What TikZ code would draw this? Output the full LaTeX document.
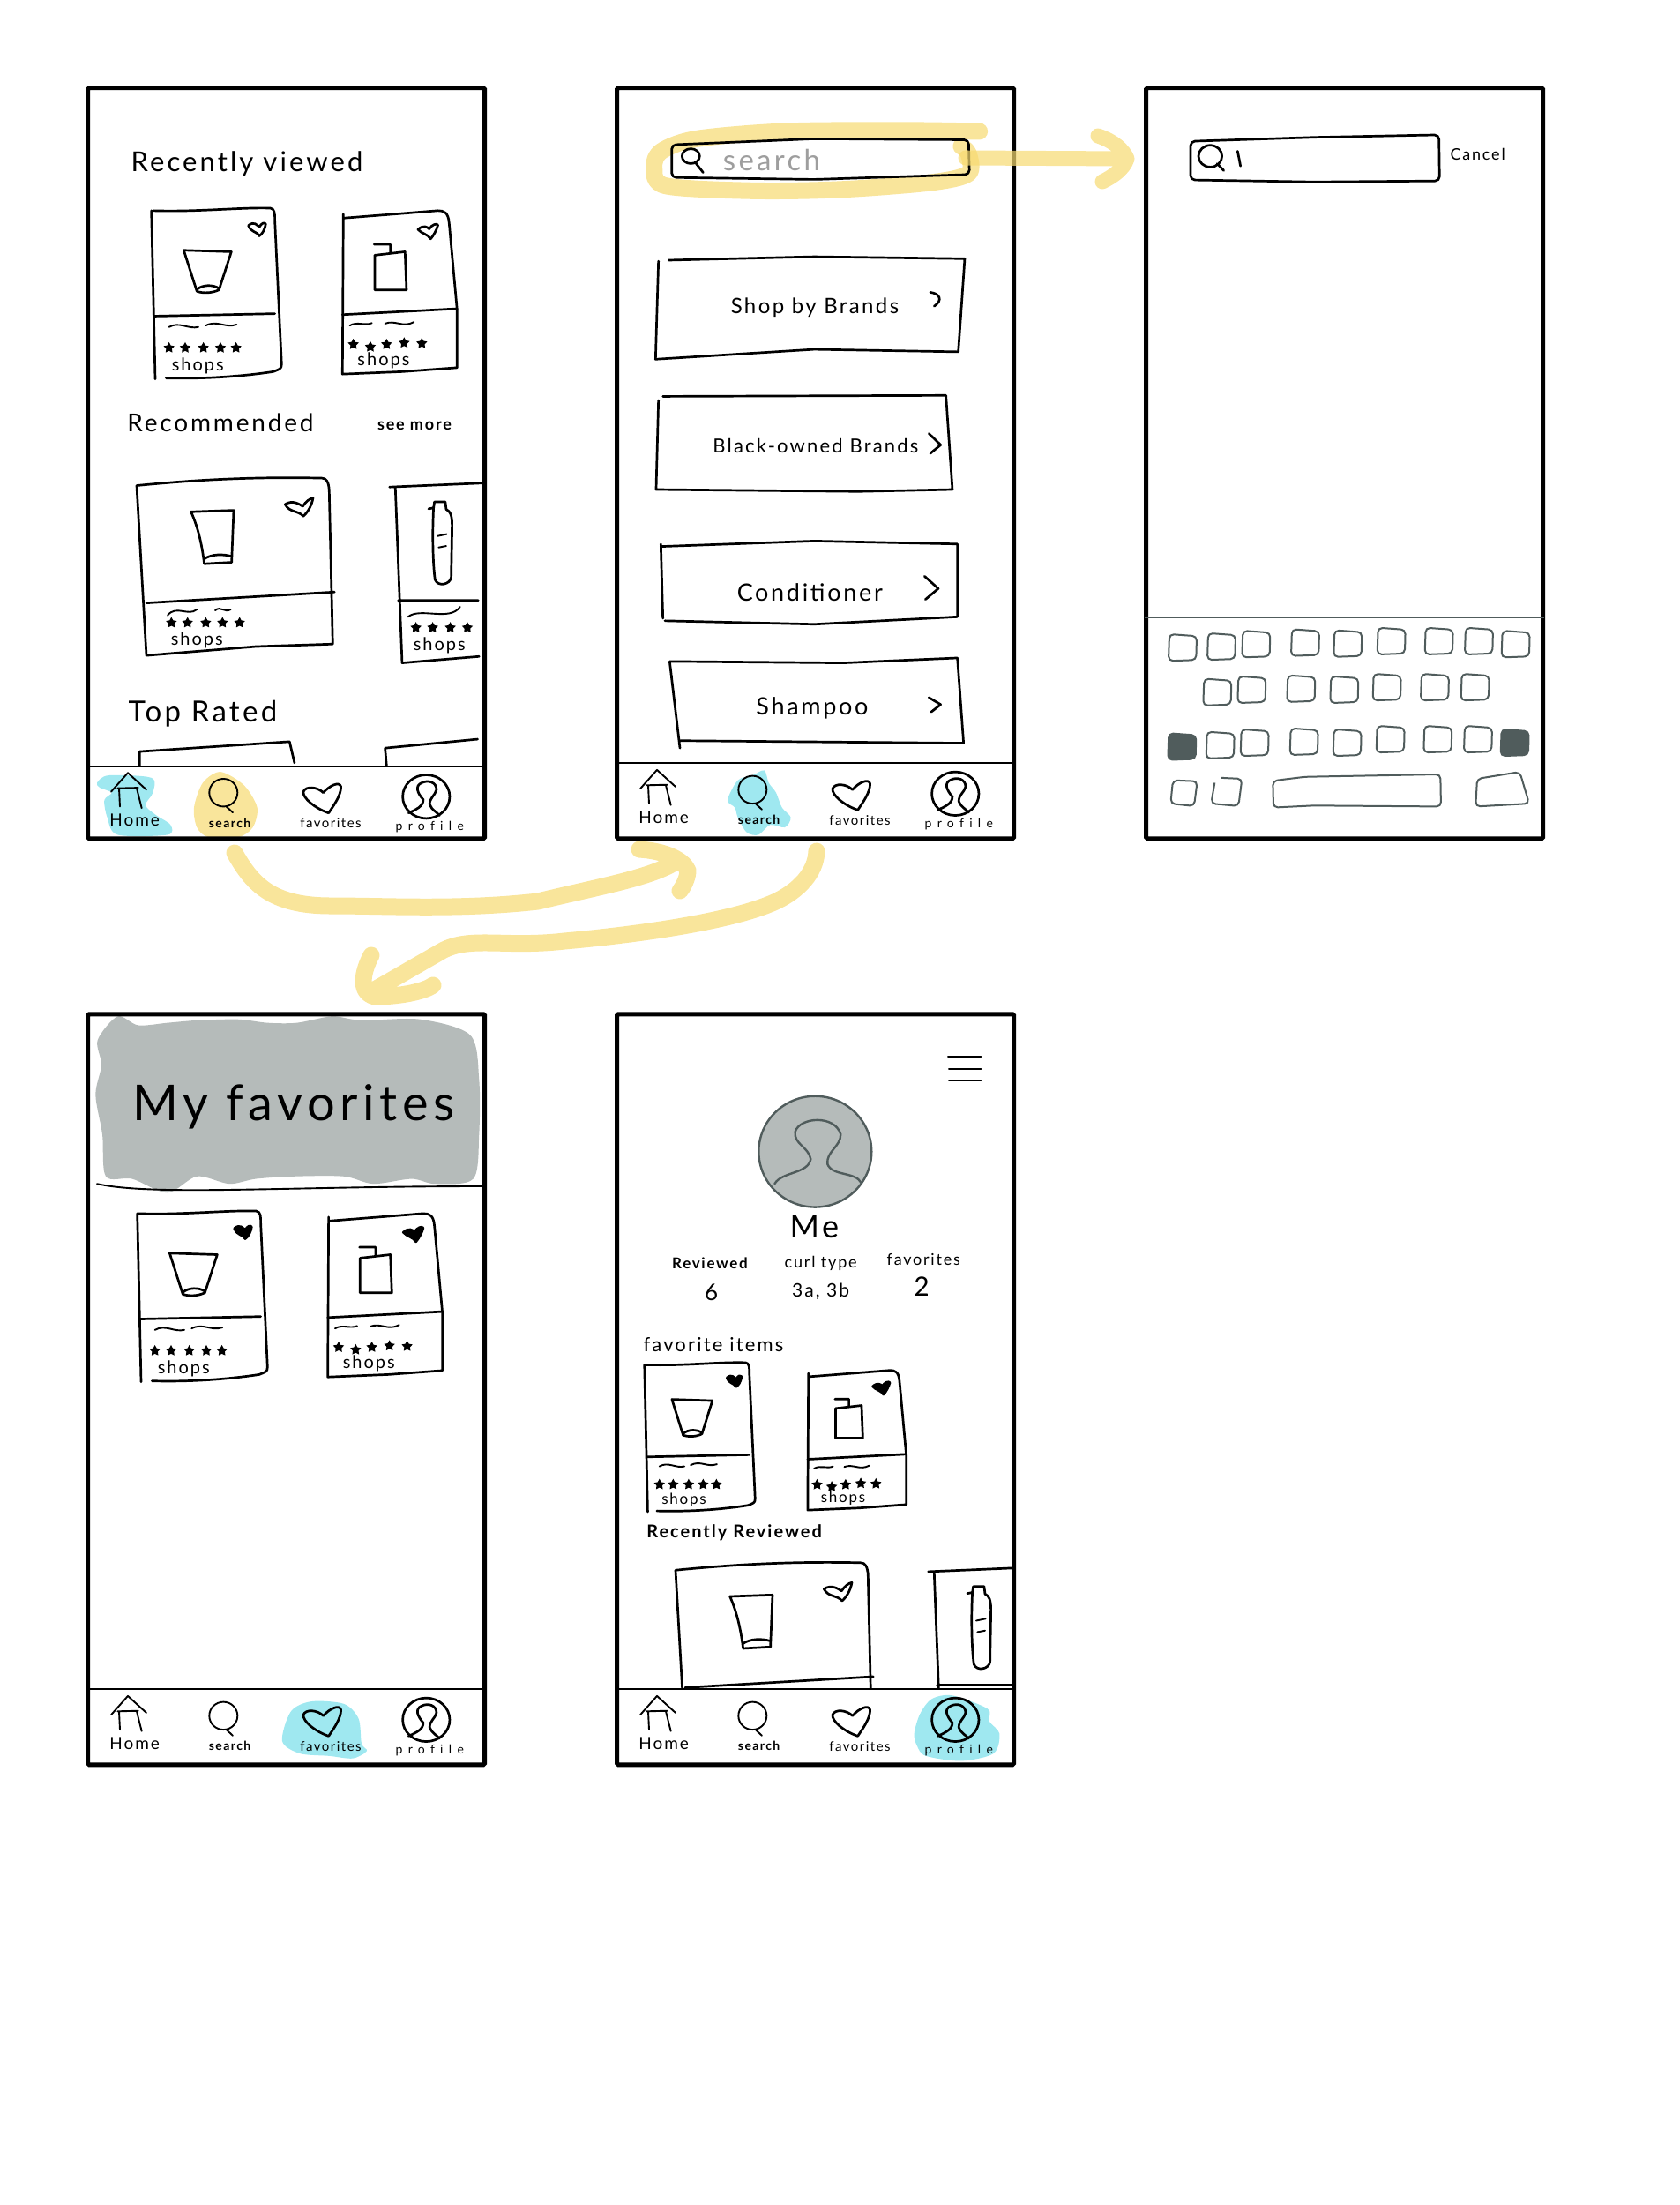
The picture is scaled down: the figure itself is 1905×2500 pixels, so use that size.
\documentclass[tikz,border=0pt]{standalone}
\usepackage{fontspec}
\usetikzlibrary{shapes.geometric}
\newfontfamily\handfont[LetterSpace=10]{Lato}
\newfontfamily\widefont[LetterSpace=45,Ligatures=NoCommon]{Lato}
\definecolor{markeryellow}{HTML}{F7DA70}
\definecolor{markercyan}{HTML}{9FE8F0}
\definecolor{pencilgray}{HTML}{B5BBBA}
\definecolor{keygray}{HTML}{505C5C}
\tikzset{
  screen/.style={shift={#1},x=.3333pt,y=-.5616pt},
  ink/.style={line width=2.7pt,line cap=round,line join=round},
  thinink/.style={line width=1.9pt,line cap=round,line join=round},
  phone/.style={draw,line width=5pt,rounded corners=1.5pt,minimum width=450pt,minimum height=851pt,inner sep=0pt},
  hand/.style={font=\handfont\fontsize{#1}{#1}\selectfont,inner sep=0pt,text=black},
  handbold/.style={font=\handfont\bfseries\fontsize{#1}{#1}\selectfont,inner sep=0pt,text=black},
  handwide/.style={font=\widefont\fontsize{#1}{#1}\selectfont,inner sep=0pt,text=black},
  stardot/.style={star,star points=5,star point ratio=1.9,fill=black,inner sep=0pt,minimum size=13pt},
  markerpen/.style={draw=markeryellow,draw opacity=.7,line width=19pt,line cap=round,line join=round},
  keycap/.style={draw=keygray,line width=2pt,rounded corners=5pt},
  pics/tabbar/.style={code={
    \draw[thinink] (108,1432) -- (165,1394) -- (228,1428) (135,1425) -- (138,1462) (195,1425) -- (212,1465) (130,1425) -- (200,1424);
    \node[hand=19] (-home) at (188,1490) {Home};
    \draw[thinink] (490,1434) ellipse [x radius=48,y radius=28] (500,1462) -- (522,1474);
    \node[handbold=14] (-search) at (512,1495) {search};
    \draw[ink] (848,1475) .. controls (800,1465) and (760,1445) .. (762,1432) .. controls (770,1420) and (810,1422) .. (830,1434) .. controls (850,1420) and (885,1410) .. (890,1422) .. controls (890,1440) and (865,1460) .. (848,1475);
    \node[hand=15] (-favorites) at (855,1495) {favorites};
    \draw[ink] (1180,1442) ellipse [x radius=80,y radius=44];
    \draw[ink] (1120,1475) .. controls (1145,1468) and (1170,1462) .. (1170,1448) .. controls (1150,1435) and (1140,1420) .. (1165,1414) .. controls (1185,1408) and (1215,1412) .. (1215,1428) .. controls (1210,1440) and (1190,1445) .. (1192,1458) .. controls (1200,1470) and (1215,1472) .. (1225,1480);
    \node[handwide=14] (-profile) at (1192,1503) {profile};
  }},
  pics/cupcard/.style 2 args={code={
    \draw[ink] (245,265) -- (258,605) (250,265) .. controls (400,268) and (550,258) .. (650,260) .. controls (665,262) and (665,270) .. (665,285) -- (688,575) .. controls (688,585) and (680,585) .. (660,590) .. controls (550,600) and (420,605) .. (295,603);
    \draw[ink] (255,478) -- (665,473);
    \draw[ink,fill=#1] (575,295) .. controls (595,285) and (605,295) .. (612,298) .. controls (620,290) and (630,288) .. (634,292) .. controls (630,305) and (622,312) .. (612,316) .. controls (600,305) and (585,310) .. cycle;
    \draw[ink] (355,345) -- (517,348) -- (475,425) .. controls (450,432) and (420,432) .. (400,428) -- cycle (400,424) .. controls (420,414) and (455,414) .. (475,422);
    \draw[thinink] (305,500) .. controls (340,488) and (370,505) .. (405,500) (430,497) .. controls (470,485) and (495,503) .. (535,495);
    \foreach \i/\sx in {1/305,2/360,3/422,4/480,5/533} \node[stardot] (-s\i) at (\sx,542) {};
    \node[hand=#2] (-shops) at (403,578) {shops};
  }},
  pics/pumpcard/.style 2 args={code={
    \draw[ink] (898,272) -- (895,595) -- (1100,590) -- (1285,582) -- (1285,465) -- (1258,290) .. controls (1255,268) and (1240,265) .. (1220,265) -- (900,280);
    \draw[ink] (895,475) -- (1285,463);
    \draw[ink,fill=#1] (1152,303) .. controls (1170,293) and (1185,298) .. (1190,302) .. controls (1200,293) and (1215,290) .. (1220,294) .. controls (1215,305) and (1205,315) .. (1195,322) .. controls (1185,312) and (1165,312) .. cycle;
    \draw[ink] (1003,333) -- (1058,333) -- (1058,350) (1005,355) -- (1108,348) -- (1113,425) -- (1005,425) -- cycle;
    \draw[thinink] (920,497) .. controls (945,488) and (970,498) .. (995,492) (1040,493) .. controls (1075,485) and (1100,502) .. (1138,490);
    \foreach \i/\sx/\sy in {1/932/535,2/990/540,3/1045/535,4/1105/532,5/1165/533} \node[stardot] (-s\i) at (\sx,\sy) {};
    \node[hand=#2] (-shops) at (1035,567) {shops};
  }},
  pics/bigcupcard/.style={code={
    \draw[ink] (195,820) -- (228,1163) -- (600,1145) -- (862,1140) -- (850,830) .. controls (848,812) and (840,805) .. (825,805) .. controls (600,802) and (400,808) .. (195,820);
    \draw[ink] (228,1057) -- (868,1035);
    \draw[ink] (700,858) .. controls (725,848) and (750,858) .. (760,862) .. controls (770,852) and (785,846) .. (795,845) .. controls (790,862) and (775,875) .. (762,882) .. controls (745,870) and (715,875) .. cycle;
    \draw[ink] (380,873) -- (525,870) -- (518,975) -- (425,978) .. controls (415,930) and (400,900) .. cycle (425,968) .. controls (450,958) and (490,958) .. (518,963);
  }},
  pics/bottlecard/.style={code={
    \draw[ink] (1075,825) -- (1098,1178) -- (1360,1165) (1055,823) -- (1372,815) (1085,1052) -- (1357,1052);
    \draw[ink] (1188,867) -- (1205,865) -- (1208,853) -- (1245,853) -- (1248,868) .. controls (1262,872) and (1268,880) .. (1268,900) -- (1265,1005) .. controls (1262,1020) and (1220,1025) .. (1210,1010) .. controls (1203,980) and (1200,920) .. (1205,865);
    \draw[thinink] (1218,922) -- (1250,918) (1222,945) -- (1248,942);
  }},
  pics/bottlefoot/.style={code={
    \draw[thinink] (1118,1085) .. controls (1160,1065) and (1260,1095) .. (1295,1065);
    \foreach \i/\sx in {1/1145,2/1202,3/1262,4/1320} \node[stardot] (-s\i) at (\sx,1107) {};
    \node[hand=20] (-shops) at (1225,1142) {shops};
  }},
  pics/bigcupfoot/.style={code={
    \draw[thinink] (300,1082) .. controls (330,1060) and (370,1085) .. (400,1070) (462,1072) .. controls (480,1062) and (495,1078) .. (515,1070);
    \foreach \i/\sx in {1/313,2/368,3/430,4/487,5/545} \node[stardot] (-s\i) at (\sx,1097) {};
    \node[hand=20] (-shops) at (400,1132) {shops};
  }}
}
\begin{document}
\begin{tikzpicture}[x=1pt,y=-1pt]
  \useasboundingbox (0,0) rectangle (1905,2500);
  % home screen
  \begin{scope}[screen={(90,90)}]
    \fill[markercyan] plot[smooth cycle] coordinates {(60,1420) (100,1405) (245,1410) (250,1440) (225,1465) (260,1485) (310,1505) (300,1525) (130,1525) (95,1490) (85,1455) (110,1440) (70,1430)};
    \fill[markeryellow,fill opacity=.7] plot[smooth cycle] coordinates {(390,1470) (420,1420) (480,1398) (560,1425) (605,1470) (590,1510) (540,1530) (440,1530) (400,1510)};
    \node[phone] (screenA) at (704,775) {};
    \draw[thinink] (36,1388) -- (1372,1388);
    \node[hand=31] (recentA) at (570,170) {Recently viewed};
    \pic (cardA) at (0,0) {cupcard={white}{20}};
    \pic (cardB) at (0,0) {pumpcard={white}{20}};
    \node[hand=28] (recommendA) at (480,693) {Recommended};
    \node[handbold=18] (moreA) at (1140,700) {see more};
    \pic (cardC) at (0,0) {bigcupcard};
    \pic (footC) at (0,0) {bigcupfoot};
    \pic (cardD) at (0,0) {bottlecard};
    \pic (footD) at (0,0) {bottlefoot};
    \node[hand=33] (topA) at (420,1280) {Top Rated};
    \draw[ink] (205,1385) -- (205,1357) -- (715,1337) -- (732,1380);
    \draw[ink] (1045,1385) -- (1040,1350) -- (1355,1332);
    \pic (tabA) at (0,6) {tabbar};
  \end{scope}
  % search screen
  \begin{scope}[screen={(690,90)}]
    \draw[markerpen] plot[smooth] coordinates {(1262,105) (1000,103) (600,105) (300,120) (180,145) (155,178) (195,215) (500,225) (800,222) (1100,208) (1225,190) (1225,150) (1200,135)};
    \fill[markercyan] plot[smooth cycle] coordinates {(405,1455) (440,1415) (490,1405) (530,1395) (545,1420) (570,1440) (590,1470) (620,1490) (600,1510) (550,1505) (510,1525) (470,1520) (440,1490) (430,1470)};
    \node[phone] (screenB) at (704,775) {};
    \draw[thinink] (36,1380) -- (1372,1380);
    \draw[ink,rounded corners=5pt] (215,132) -- (700,120) -- (1225,122) -- (1228,192) -- (700,202) -- (215,198) -- cycle;
    \draw[ink] (280,155) ellipse [x radius=30,y radius=15] (298,170) -- (322,188);
    \node[hand=33,text=black!38] (fieldB) at (555,162) {search};
    \draw[ink] (170,367) -- (160,565) -- (700,545) -- (1190,550) -- (1212,362) -- (700,358) -- (205,365);
    \draw[ink] (1095,430) .. controls (1125,432) and (1140,445) .. (1108,458);
    \node[hand=24] (brandsB) at (702,460) {Shop by Brands};
    \draw[ink] (170,648) -- (162,828) -- (850,832) -- (1170,828) -- (1148,638) -- (185,640);
    \draw[ink] (1090,715) -- (1130,738) -- (1095,755);
    \node[hand=22] (blackB) at (705,740) {Black-owned Brands};
    \draw[ink] (178,938) -- (185,1088) (178,943) -- (700,932) -- (1187,938) -- (1187,1085) -- (700,1100) -- (192,1093);
    \draw[ink] (1075,1003) -- (1122,1028) -- (1078,1050);
    \node[hand=27] (condB) at (685,1035) {Conditioner};
    \draw[ink] (208,1175) -- (243,1350) (208,1175) -- (800,1178) -- (1187,1168) -- (1208,1340) -- (245,1335);
    \draw[ink] (1090,1248) -- (1130,1262) -- (1098,1277);
    \node[hand=27] (shampooB) at (693,1270) {Shampoo};
    \pic (tabB) at (0,0) {tabbar};
  \end{scope}
  % keyboard screen
  \begin{scope}[screen={(1290,90)}]
    \node[phone] (screenC) at (704,775) {};
    \draw[ink,rounded corners=5pt] (180,125) -- (600,117) -- (1025,112) -- (1027,205) -- (600,207) -- (180,203) -- cycle;
    \draw[ink] (247,155) ellipse [x radius=40,y radius=22] (270,170) -- (293,184);
    \draw[ink] (340,145) -- (350,175);
    \node[hand=18] (cancelC) at (1157,152) {Cancel};
    \draw[draw=keygray,line width=1.6pt] (25,1086) -- (1383,1086);
    \foreach \kx/\ky in {105/1120,237/1118,355/1113,522/1110,667/1112,815/1107,977/1107,1113/1107,1238/1113,
        223/1210,340/1205,508/1203,655/1205,800/1200,963/1200,1100/1200,
        233/1317,350/1312,518/1310,665/1312,812/1305,973/1305,1110/1305}
      \draw[keycap] (\kx+3,\ky) -- (\kx+96,\ky+4) -- (\kx+94,\ky+52) -- (\kx,\ky+54) -- cycle;
    \foreach \kx/\ky in {103/1320,1235/1312}
      \draw[keycap,fill=keygray] (\kx+3,\ky) -- (\kx+96,\ky+4) -- (\kx+94,\ky+52) -- (\kx,\ky+54) -- cycle;
    \draw[keycap] (120,1415) -- (203,1417) -- (192,1467) -- (112,1462) -- cycle;
    \draw[keycap] (285,1410) -- (355,1412) -- (343,1467) -- (250,1462) -- (262,1420);
    \draw[keycap] (460,1416) -- (570,1408) -- (1030,1403) -- (1032,1468) -- (600,1466) -- (462,1470) -- cycle;
    \draw[keycap] (1155,1412) -- (1300,1398) -- (1332,1462) -- (1150,1468) -- cycle;
  \end{scope}
  % favorites screen
  \begin{scope}[screen={(90,1140)}]
    \fill[pencilgray] plot[smooth cycle] coordinates {(62,70) (130,22) (200,40) (300,35) (400,30) (540,28) (640,35) (740,35) (860,22) (960,30) (1160,28) (1330,60) (1360,150) (1360,260) (1340,350) (1210,360) (1130,350) (1000,360) (900,345) (730,345) (600,350) (510,360) (400,345) (300,378) (180,350) (90,345) (78,260) (55,180) (75,120)};
    \fill[markercyan] plot[smooth cycle] coordinates {(690,1485) (720,1425) (790,1405) (900,1410) (950,1440) (960,1490) (978,1505) (930,1520) (850,1515) (750,1510)};
    \node[phone] (screenD) at (704,775) {};
    \draw[thinink] (36,1380) -- (1372,1380);
    \node[hand=56] (titleD) at (730,205) {My favorites};
    \draw[thinink] (60,360) .. controls (250,385) and (700,365) .. (1372,365);
    \pic (cardE) at (-48,155) {cupcard={black}{20}};
    \pic (cardF) at (-50,155) {pumpcard={black}{20}};
    \pic (tabD) at (0,0) {tabbar};
  \end{scope}
  % profile screen
  \begin{scope}[screen={(690,1140)}]
    \fill[markercyan] plot[smooth cycle] coordinates {(1040,1470) (1060,1430) (1100,1400) (1170,1393) (1290,1420) (1295,1445) (1330,1470) (1310,1510) (1200,1525) (1080,1515) (1050,1495)};
    \node[phone] (screenE) at (704,775) {};
    \draw[thinink] (36,1380) -- (1372,1380);
    \draw[thinink] (1155,103) -- (1267,103) (1158,128) -- (1267,128) (1158,152) -- (1267,152);
    \draw[draw=keygray,fill=pencilgray,line width=2.4pt] (703,295) ellipse [x radius=192,y radius=112];
    \draw[draw=keygray,line width=2.4pt,line cap=round] (565,360) .. controls (590,335) and (680,340) .. (688,310) .. controls (680,285) and (630,280) .. (635,255) .. controls (650,225) and (770,220) .. (790,260) .. controls (790,285) and (740,295) .. (745,320) .. controls (760,345) and (840,335) .. (860,358);
    \node[hand=36] (nameE) at (700,447) {Me};
    \node[handbold=17] (reviewE) at (345,520) {Reviewed};
    \node[hand=26] (sixE) at (350,580) {6};
    \node[hand=18] (curlE) at (722,520) {curl type};
    \node[hand=21] (typeE) at (722,578) {3a, 3b};
    \node[hand=18] (favE) at (1072,512) {favorites};
    \node[hand=30] (twoE) at (1065,568) {2};
    \node[hand=22] (itemsE) at (357,685) {favorite items};
    \node[handbold=20] (recentE) at (428,1065) {Recently Reviewed};
    \pic[xscale=.85,yscale=.873] (cardG) at (-86,494) {cupcard={black}{17}};
    \pic[xscale=.86,yscale=.855] (cardH) at (-92,510) {pumpcard={black}{17}};
    \begin{scope}
      \clip (36,1000) rectangle (1372,1380);
      \pic (cardI) at (33,320) {bigcupcard};
      \pic (cardJ) at (33,320) {bottlecard};
    \end{scope}
    \pic (tabE) at (0,0) {tabbar};
  \end{scope}
  % arrows between screens
  \coordinate (arrowAstart) at (266,967);
  \coordinate (arrowAend) at (768,976);
  \coordinate (arrowBstart) at (926,965);
  \coordinate (arrowBend) at (425,1122);
  \coordinate (arrowCstart) at (1095,179);
  \coordinate (arrowCend) at (1278,180);
  \draw[markerpen] (arrowAstart) .. controls (285,1000) and (305,1027) .. (375,1027) .. controls (440,1027) and (520,1032) .. (610,1022) .. controls (680,1005) and (740,995) .. (arrowAend) (725,963) .. controls (755,965) and (775,975) .. (780,987) .. controls (780,995) and (775,1005) .. (771,1010);
  \draw[markerpen] (arrowBstart) .. controls (925,990) and (905,1010) .. (880,1022) .. controls (830,1045) and (720,1060) .. (640,1067) .. controls (570,1075) and (530,1060) .. (498,1080) -- (arrowBend) (421,1083) .. controls (412,1100) and (405,1125) .. (425,1130) .. controls (450,1130) and (480,1125) .. (491,1117);
  \draw[markerpen,line width=17pt] (arrowCstart) -- (arrowCend) (1245,154) .. controls (1263,160) and (1274,170) .. (arrowCend) .. controls (1274,192) and (1262,200) .. (1250,206);
\end{tikzpicture}
\end{document}
